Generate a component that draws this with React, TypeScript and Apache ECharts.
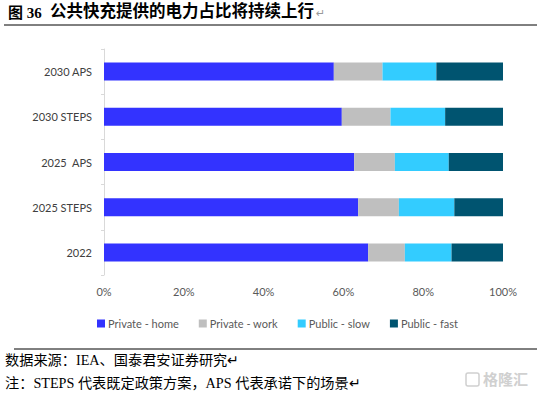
import React, { useEffect, useRef } from "react";
import * as echarts from "echarts";

const categories = ["2022", "2025 STEPS", "2025  APS", "2030 STEPS", "2030 APS"];
const privateHome = [66.2, 63.7, 62.7, 59.6, 57.6];
const privateWork = [9.2, 10.2, 10.2, 12.2, 12.2];
const publicSlow = [11.7, 13.9, 13.5, 13.7, 13.5];
const publicFast = [12.9, 12.2, 13.6, 14.5, 16.7];
const seriesNames = ["Private - home", "Private - work", "Public - slow", "Public - fast"];
const colors = ["#3333FF", "#BFBFBF", "#33CCFF", "#005470"];

const figLabel = "图 36";
const title = "公共快充提供的电力占比将持续上行";
const source = "数据来源：IEA、国泰君安证券研究";
const note = "注：STEPS 代表既定政策方案，APS 代表承诺下的场景";

export default function App() {
  const ref = useRef<HTMLDivElement>(null);
  useEffect(() => {
    if (!ref.current) return;
    const chart = echarts.init(ref.current, undefined, { renderer: "svg" });
    const data = [privateHome, privateWork, publicSlow, publicFast];
    const labelFont = "Lato, 'Open Sans', sans-serif";
    const serif = "'Liberation Serif', 'Noto Sans CJK SC', serif";
    chart.setOption({
      animation: false,
      backgroundColor: "#ffffff",
      grid: { left: 104, right: 34, top: 49, bottom: 122, containLabel: false },
      xAxis: {
        type: "value",
        min: 0,
        max: 100,
        interval: 20,
        axisLine: { show: false },
        axisTick: { show: false },
        splitLine: { show: false },
        axisLabel: {
          formatter: "{value}%",
          color: "#595959",
          fontSize: 11,
          fontFamily: labelFont,
          margin: 11,
        },
      },
      yAxis: {
        type: "category",
        data: categories,
        axisLine: { show: true, lineStyle: { color: "#D9D9D9" } },
        axisTick: { show: true, length: 3, lineStyle: { color: "#D9D9D9" } },
        axisLabel: {
          color: "#404040",
          fontSize: 11,
          fontFamily: labelFont,
          margin: 12,
        },
      },
      legend: {
        left: 92,
        top: 313,
        itemWidth: 8,
        itemHeight: 8,
        itemGap: 20,
        icon: "rect",
        textStyle: { color: "#595959", fontSize: 11, fontFamily: labelFont, padding: [0, 0, 0, -2] },
        data: seriesNames,
      },
      series: seriesNames.map((name, i) => ({
        name,
        type: "bar",
        stack: "total",
        data: data[i],
        barWidth: 18,
        itemStyle: { color: colors[i] },
      })),
      graphic: [
        {
          type: "text",
          left: 8,
          top: 5,
          style: { text: figLabel, fill: "#000", font: "bold 15px " + serif },
        },
        {
          type: "text",
          left: 50,
          top: 3,
          style: { text: title, fill: "#000", font: "bold 16.5px " + serif },
        },
        {
          type: "text",
          left: 316,
          top: 8,
          style: { text: "↵", fill: "#999", font: "11px 'DejaVu Sans'" },
        },
        {
          type: "line",
          shape: { x1: 4, y1: 25, x2: 537, y2: 25 },
          style: { stroke: "#000", lineWidth: 1 },
        },
        {
          type: "line",
          shape: { x1: 14, y1: 349, x2: 537, y2: 349 },
          style: { stroke: "#000", lineWidth: 1 },
        },
        {
          type: "text",
          left: 5,
          top: 353,
          style: { text: source + "↵", fill: "#000", font: "14.2px " + serif },
        },
        {
          type: "text",
          left: 5,
          top: 376,
          style: { text: note + "↵", fill: "#000", font: "14.2px " + serif },
        },
        {
          type: "rect",
          shape: { x: 466, y: 373, width: 13, height: 13, r: 2 },
          style: { fill: "none", stroke: "#D0D0D0", lineWidth: 1.5 },
        },
        {
          type: "text",
          left: 483,
          top: 371,
          style: { text: "格隆汇", fill: "#D0D0D0", font: "bold 15px 'Noto Sans CJK SC'" },
        },
      ],
    });
    return () => chart.dispose();
  }, []);
  return (
    <div
      ref={ref}
      style={{ position: "absolute", left: 0, top: 0, width: 537, height: 397 }}
    />
  );
}
